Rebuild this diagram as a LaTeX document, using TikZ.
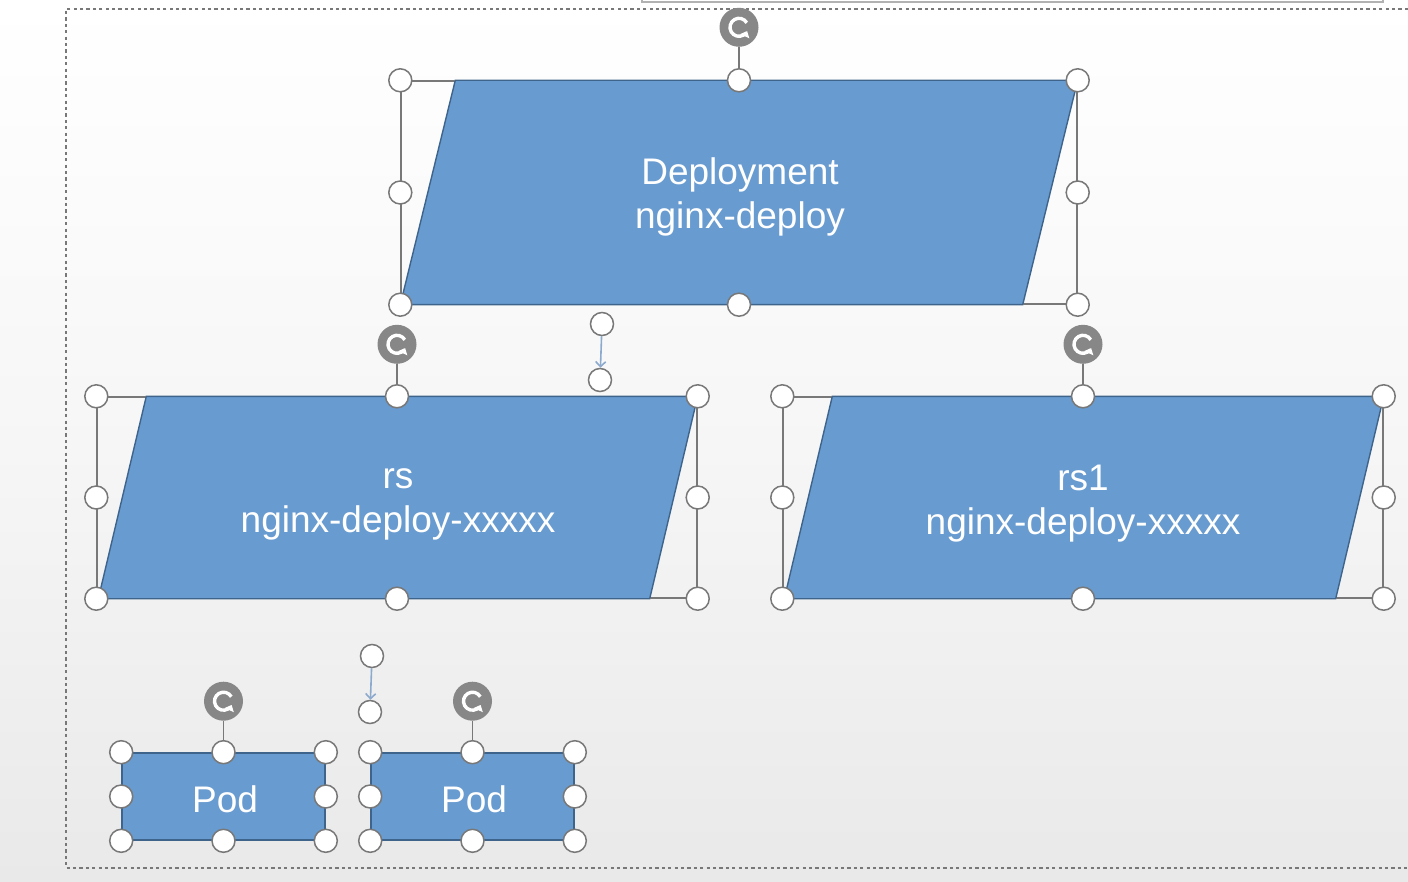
\documentclass[tikz,border=0pt]{standalone}
\usepackage{fontspec}
\setmainfont{Liberation Sans}
\usetikzlibrary{arrows.meta,calc}
\definecolor{shapeblue}{RGB}{104,155,208}
\definecolor{shapeline}{RGB}{62,100,140}
\definecolor{handlegray}{RGB}{120,120,120}
\definecolor{rotgray}{RGB}{135,135,135}
\definecolor{connblue}{RGB}{140,170,205}
\definecolor{bgbottom}{RGB}{233,233,233}
\tikzset{
  handle/.style={circle, draw=handlegray, fill=white, line width=0.75pt, minimum size=11.5pt, inner sep=0pt},
  rothandle/.style={circle, fill=rotgray, minimum size=19.5pt, inner sep=0pt},
  bbox/.style={draw=handlegray, line width=0.7pt, inner sep=0pt},
  podbox/.style={draw=shapeline, fill=shapeblue, line width=0.8pt, inner sep=0pt},
  shapefill/.style={fill=shapeblue, draw=shapeline, line width=0.7pt},
  lbl/.style={text=white, font=\fontsize{18.5pt}{22pt}\selectfont, align=center, inner sep=0pt},
  conn/.style={draw=connblue, line width=0.8pt, -{Straight Barb[length=2.5pt,width=5pt]}},
  rotline/.style={draw=handlegray, line width=0.7pt},
  icon/.style={draw=white, line width=1.7pt, -{Triangle[length=2.8pt,width=4.8pt]}}
}
\begin{document}
\begin{tikzpicture}[x=0.5pt,y=-0.5pt]
\useasboundingbox (0,0) rectangle (1408,882);
\fill[top color=white, bottom color=bgbottom, middle color=white!60!bgbottom] (0,0) rectangle (1408,882);

% selection frame
\draw[handlegray, line width=0.65pt, dash pattern=on 1.6pt off 1.6pt] (1408,9) -- (66,9) -- (66,868) -- (1408,868);
% box at top right edge
\draw[gray!60, line width=0.6pt] (642,-6) -- (642,2) -- (1383,2) -- (1383,-6);

% bounding boxes
\node[bbox, minimum width=338pt, minimum height=111.5pt] (dep) at (739,192.5) {};
\node[bbox, minimum width=300pt, minimum height=100.5pt] (rs) at (397,497.5) {};
\node[bbox, minimum width=300pt, minimum height=100.5pt] (rsone) at (1083,497.5) {};

% parallelograms
\filldraw[shapefill] ($(dep.north west)+(55,0)$) -- (dep.north east) -- ($(dep.south east)+(-55,0)$) -- (dep.south west) -- cycle;
\filldraw[shapefill] ($(rs.north west)+(50,0)$) -- (rs.north east) -- ($(rs.south east)+(-48,0)$) -- ($(rs.south west)+(2,0)$) -- cycle;
\filldraw[shapefill] ($(rsone.north west)+(50,0)$) -- (rsone.north east) -- ($(rsone.south east)+(-48,0)$) -- ($(rsone.south west)+(2,0)$) -- cycle;
% bbox edge parts over the slant region
\draw[handlegray, line width=0.7pt] (dep.north west) -- ($(dep.north west)+(55,0)$) (dep.south east) -- ($(dep.south east)+(-55,0)$);
\draw[handlegray, line width=0.7pt] (rs.north west) -- ($(rs.north west)+(50,0)$) (rs.south east) -- ($(rs.south east)+(-48,0)$);
\draw[handlegray, line width=0.7pt] (rsone.north west) -- ($(rsone.north west)+(50,0)$) (rsone.south east) -- ($(rsone.south east)+(-48,0)$);

% pods
\node[podbox, minimum width=101.5pt, minimum height=43.5pt] (poda) at (223.5,796.5) {};
\node[podbox, minimum width=101.5pt, minimum height=43.5pt] (podb) at (472.5,796.5) {};

% labels
\node[lbl] (deptext) at (740,197) {Deployment\\nginx-deploy};
\node[lbl] (rstext) at (398,504) {rs\\nginx-deploy-xxxxx};
\node[lbl] (rsonetext) at (1083,504) {rs1\\nginx-deploy-xxxxx};
\node[lbl] (podatext) at (225,799) {Pod};
\node[lbl] (podbtext) at (474,799) {Pod};

% rotation handles
\foreach \b/\dy in {dep/-53, rs/-52, rsone/-52, poda/-51, podb/-51}{
  \node[rothandle] (\b-rot) at ($(\b.north)+(0,\dy)$) {};
  \draw[rotline] (\b-rot) -- (\b.north);
  \draw[icon] ($(\b-rot.center)+(-30:9)$) arc[start angle=-30, end angle=-335, radius=9];
}

% selection handles
\foreach \b in {dep,rs,rsone,poda,podb}{
  \foreach \a/\n in {north west/1, north/2, north east/3, east/4, south east/5, south/6, south west/7, west/8}{
    \node[handle] (\b-h\n) at (\b.\a) {};
  }
}

% connectors
\node[handle] (ca1) at (602,324) {};
\node[handle] (ca2) at (600,380) {};
\draw[conn] (ca1) -- (ca2);
\node[handle] (cb1) at (372,656) {};
\node[handle] (cb2) at (370,712) {};
\draw[conn] (cb1) -- (cb2);
\end{tikzpicture}
\end{document}
